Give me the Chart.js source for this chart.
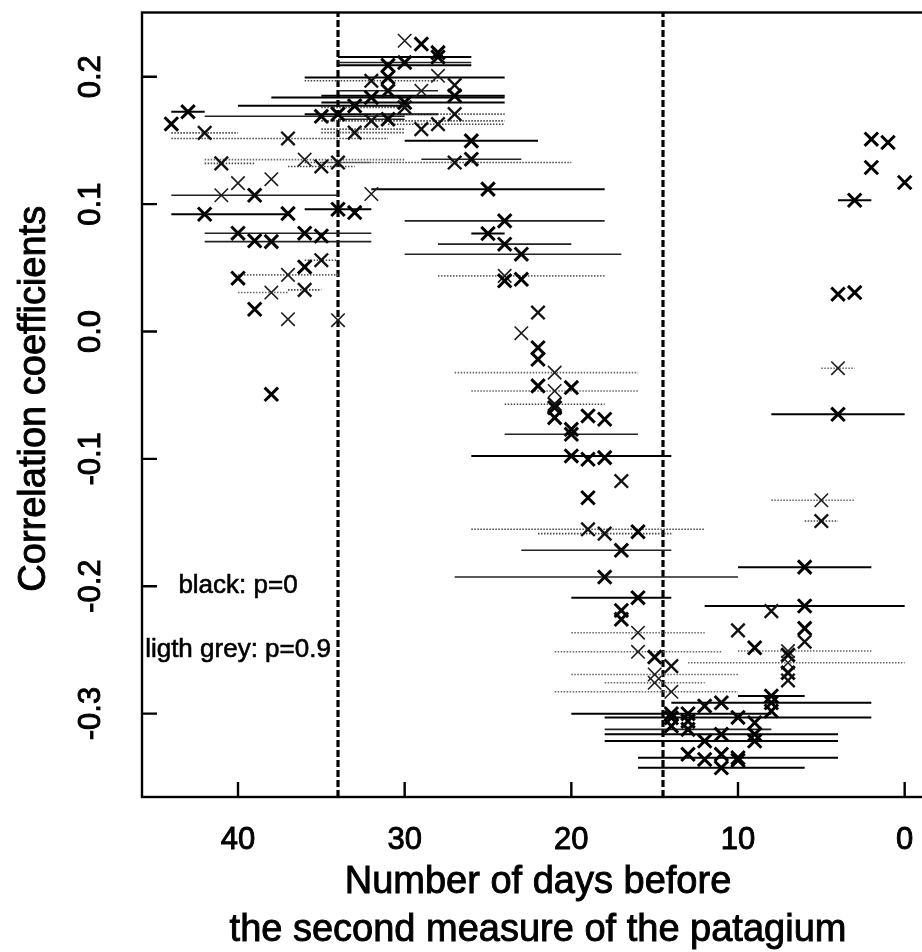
<!DOCTYPE html>
<html>
<head>
<meta charset="utf-8">
<title>Correlation coefficients by window</title>
<script src="https://cdn.jsdelivr.net/npm/chart.js@4.4.1/dist/chart.umd.min.js"></script>
<style>
  html, body { margin: 0; padding: 0; background: #fff; overflow: hidden; }
  #wrap { width: 922px; height: 952px; overflow: hidden; }
  canvas { display: block; }
</style>
</head>
<body>
<div id="wrap"><canvas id="corrChart" width="960" height="952"></canvas></div>
<script>
// ------------------------------------------------------------
// Correlation of patagium growth with a climate window,
// one cross per window centre, horizontal bar = window span
// ------------------------------------------------------------

// window centre (days before the 2nd measure)
const days = [
  44, 43, 42, 37, 41, 36, 40, 38, 41, 39, 35, 34, 42, 37, 34, 33, 32, 40, 38, 39,
  36, 35, 35, 36, 40, 37, 36, 38, 39, 37, 34, 38,
  30, 29, 28, 28, 30, 31, 28, 31, 32, 27, 31, 29, 27, 32, 30, 30, 33, 35,
  34, 32, 31, 27, 28, 29, 33, 26, 26, 27,
  25, 24, 25, 24, 23, 24, 24, 23, 22, 23, 22, 22, 21, 22, 21, 20, 21, 21, 21, 19,
  18, 20, 20, 20, 19, 18, 17, 19, 19, 18, 16, 17, 18, 16, 17, 17, 16, 16, 15, 14,
  15, 15, 14, 14, 14, 14, 13, 13, 13, 12, 11, 12, 13, 12, 10, 9, 9, 9, 11, 11,
  10, 10, 11, 8, 8, 8, 7, 7, 7, 7, 7, 9, 10, 8, 6, 6, 6, 6, 5, 5,
  4, 4, 4, 3, 3, 2, 1, 2, 0
];

// correlation coefficient for each window
const corr = [
  0.163, 0.1725, 0.156, 0.1516, 0.132, 0.135, 0.1165, 0.1196, 0.107, 0.107,
  0.1296, 0.1327, 0.0921, 0.0926, 0.096, 0.0934, 0.108, 0.0772, 0.0706, 0.0712,
  0.0772, 0.075, 0.056, 0.0507, 0.0419, 0.0445, 0.0327, 0.0306, 0.0175, 0.0097,
  0.0089, -0.0493,
  0.2283, 0.2257, 0.219, 0.2155, 0.2112, 0.209, 0.2008, 0.1995, 0.1969, 0.1935,
  0.189, 0.189, 0.1851, 0.1838, 0.1798, 0.176, 0.1772, 0.169, 0.1707, 0.1654,
  0.1667, 0.1707, 0.1628, 0.1589, 0.1562, 0.1497, 0.1353, 0.1327,
  0.1118, 0.0869, 0.0769, 0.0686, 0.0607, 0.0437, 0.0398, 0.041, 0.0149, -0.0013,
  -0.0127, -0.0218, -0.0323, -0.0427, -0.0467, -0.044, -0.0571, -0.0598, -0.0676, -0.0663,
  -0.0689, -0.0768, -0.0807, -0.0977, -0.1003, -0.099, -0.1174, -0.1305, -0.1553, -0.1587,
  -0.1572, -0.1718, -0.1928, -0.209, -0.219, -0.226, -0.2365, -0.2515, -0.2556, -0.2627,
  -0.2693, -0.2758, -0.2829, -0.3001, -0.3033, -0.3098, -0.3001, -0.3059, -0.3124, -0.294,
  -0.2915, -0.3216, -0.332, -0.336, -0.303, -0.3072, -0.3163, -0.3216, -0.3163, -0.332,
  -0.3347, -0.3367, -0.3426, -0.2862, -0.2915, -0.298, -0.2509, -0.254, -0.2601, -0.268,
  -0.274, -0.2483, -0.2347, -0.2195, -0.2155, -0.2331, -0.2436, -0.185, -0.1488, -0.1325,
  -0.065, -0.0288, 0.0293, 0.0306, 0.1031, 0.151, 0.1484, 0.1288, 0.117
];

// window bounds (days); null = span not drawn
const winFrom = [
  null, 44, 44, 44, 42, 42, null, null, null, 44, 37, 36, 44, null, 36, null, null, 42, 42, null,
  null, null, 36, null, null, 40, 37, 40, null, null, null, null,
  null, null, null, 34, 34, 34, null, 36, 36, null, 34, null, 35, 38, 35, 35, 40, 42,
  36, 35, 34, 32, 31, 35, 35, 30, 29, 35,
  32, 30, 26, 28, 30, 28, null, null, null, null, null, null, 27, null, 26, null, 24, null, null, null,
  null, null, 24, 26, null, null, null, null, 26, 22, null, 23, 27, 20, null, null, 20, 21, null, null,
  20, 18, 21, 20, null, null, null, null, 18, null, null, 18, null, null, 18, null, null, null, 18, null,
  16, null, 16, 10, 14, null, 10, null, 13, null, null, null, null, null, 12, null, null, 10, 6, 8,
  8, 5, null, null, 4, null, null, null, null
];
const winTo = [
  null, 42, 40, 31, 39, 30, null, null, null, 34, 33, 32, 37, null, 32, null, null, 32, 32, null,
  null, null, 34, null, null, 34, 35, 37, null, null, null, null,
  null, null, null, 26, 26, 26, null, 24, 28, null, 28, null, 24, 24, 24, 30, 30, 30,
  28, 24, 30, 24, 24, 30, 30, 22, 23, 20,
  18, 18, 24, 20, 17, 18, null, null, null, null, null, null, 16, null, 16, null, 18, null, null, null,
  null, null, 16, 14, null, null, null, null, 12, 14, null, 14, 10, 14, null, null, 12, 11, null, null,
  10, 12, 10, 8, null, null, null, null, 8, null, null, 4, null, null, 2, null, null, null, 4, null,
  4, null, 6, 6, 2, null, 2, null, 0, null, null, null, null, null, 0, null, null, 2, 4, 3,
  0, 3, null, null, 2, null, null, null, null
];

// shrinkage parameter p of each estimate (0 = black ... 0.9 = light grey)
const pLevel = [
  0, 0, 0.6, 0.6, 0.6, 0.9, 0.9, 0.9, 0.9, 0.3, 0.6, 0.6, 0, 0, 0, 0, 0.9, 0.3, 0.3, 0,
  0, 0, 0.6, 0, 0, 0.9, 0.6, 0.9, 0, 0.9, 0.9, 0,
  0.9, 0, 0, 0, 0.3, 0, 0.9, 0, 0.6, 0.6, 0.3, 0.9, 0, 0, 0, 0.6, 0, 0.3,
  0, 0.6, 0.3, 0.6, 0.6, 0.6, 0.6, 0, 0.3, 0.6,
  0, 0.3, 0, 0.3, 0.3, 0.9, 0, 0, 0.6, 0.9, 0.3, 0.3, 0.9, 0, 0.9, 0, 0.6, 0.3, 0, 0,
  0, 0, 0.3, 0, 0, 0, 0.6, 0, 0.6, 0.6, 0, 0.3, 0.3, 0, 0.3, 0.3, 0.9, 0.9, 0.3, 0.6,
  0.9, 0.9, 0.9, 0, 0, 0, 0, 0, 0.3, 0.3, 0.3, 0, 0, 0, 0, 0, 0, 0, 0, 0,
  0, 0, 0, 0, 0, 0, 0.9, 0.3, 0.9, 0.3, 0.6, 0, 0.6, 0.6, 0, 0, 0.6, 0, 0.6, 0.9,
  0, 0.9, 0, 0, 0, 0, 0, 0, 0
];

// axes
const xTicks = [40, 30, 20, 10, 0];
const yTicks = [-0.3, -0.2, -0.1, 0.0, 0.1, 0.2];
const yTickLabels = ["-0.3", "-0.2", "-0.1", "0.0", "0.1", "0.2"];
const xRange = [-1.76, 45.76];
const yRange = [-0.3655, 0.2505];

// period boundaries (dashed verticals)
const cutDays = [34, 14.5];

// in-plot notes
const noteText = ["black: p=0", "ligth grey: p=0.9"];
const noteDay = [40, 40];
const noteCorr = [-0.2, -0.25];

const FONT = '"Liberation Sans", Arial, Helvetica, sans-serif';

function greyOf(p, k) {
  const g = Math.round(255 * p * k);
  return `rgb(${g},${g},${g})`;
}
const markerColor = p => greyOf(p, 0.12);
const markerWidth = p => (p >= 0.9 ? 1.6 : p >= 0.6 ? 2.4 : 3);
const barColor = p => (p === 0 ? "#000" : greyOf(p, 0.45));
const barWidth = p => (p === 0 ? 2 : 1.6);
const barDash = p => (p >= 0.6 ? [1.5, 1.5] : []);

// window spans as broken polyline: from, to, gap
const windowPts = [];
const windowP = [];
days.forEach((d, i) => {
  if (winFrom[i] == null) return;
  windowPts.push({ x: winFrom[i], y: corr[i] }, { x: winTo[i], y: corr[i] }, { x: NaN, y: NaN });
  windowP.push(pLevel[i]);
});

const points = days.map((d, i) => ({ x: d, y: corr[i] }));

const cutSets = cutDays.map(d => ({
  type: "scatter",
  data: [{ x: d, y: yRange[0] }, { x: d, y: yRange[1] }],
  showLine: true,
  borderColor: "#000",
  borderWidth: 3.2,
  borderDash: [7, 3],
  pointRadius: 0,
  order: 3
}));

// heavier text, close to the printed weight
function boldText(ctx, t, x, y) {
  ctx.fillText(t, x, y);
  ctx.strokeText(t, x, y);
}

// frame, inward ticks and all text
const framePlugin = {
  id: "frame",
  afterDraw(chart) {
    const { ctx, chartArea: a, scales } = chart;
    const sx = scales.x, sy = scales.y;
    ctx.save();
    ctx.strokeStyle = "#000";
    ctx.lineWidth = 2.4;
    ctx.strokeRect(a.left, a.top, a.right - a.left, a.bottom - a.top);

    ctx.beginPath();
    xTicks.forEach(v => {
      const px = sx.getPixelForValue(v);
      ctx.moveTo(px, a.bottom);
      ctx.lineTo(px, a.bottom - 15);
    });
    yTicks.forEach(v => {
      const py = sy.getPixelForValue(v);
      ctx.moveTo(a.left, py);
      ctx.lineTo(a.left + 15, py);
    });
    ctx.stroke();

    ctx.fillStyle = "#000";
    ctx.lineWidth = 0.9;
    ctx.font = `31px ${FONT}`;
    ctx.textAlign = "center";
    ctx.textBaseline = "alphabetic";
    xTicks.forEach(v => boldText(ctx, String(v), sx.getPixelForValue(v), 849));

    yTicks.forEach((v, i) => {
      ctx.save();
      ctx.translate(100, sy.getPixelForValue(v));
      ctx.rotate(-Math.PI / 2);
      boldText(ctx, yTickLabels[i], 0, 0);
      ctx.restore();
    });

    ctx.font = `38px ${FONT}`;
    const cx = (a.left + a.right) / 2;
    boldText(ctx, "Number of days before", cx, 893);
    boldText(ctx, "the second measure of the patagium", cx, 941);

    ctx.save();
    ctx.translate(45, (a.top + a.bottom) / 2 - 6);
    ctx.rotate(-Math.PI / 2);
    boldText(ctx, "Correlation coefficients", 0, 0);
    ctx.restore();

    ctx.font = `26px ${FONT}`;
    ctx.lineWidth = 0.6;
    ctx.textBaseline = "middle";
    noteText.forEach((t, i) => {
      boldText(ctx, t, sx.getPixelForValue(noteDay[i]), sy.getPixelForValue(noteCorr[i]));
    });
    ctx.restore();
  }
};

new Chart(document.getElementById("corrChart"), {
  type: "scatter",
  data: {
    datasets: [
      {
        label: "estimates",
        data: points,
        pointStyle: "crossRot",
        pointRadius: 9.5,
        pointBorderColor: c => markerColor(pLevel[c.dataIndex]),
        pointBorderWidth: c => markerWidth(pLevel[c.dataIndex]),
        order: 1
      },
      {
        label: "windows",
        data: windowPts,
        showLine: true,
        spanGaps: false,
        pointRadius: 0,
        borderWidth: 1.8,
        borderColor: "#000",
        segment: {
          borderColor: c => barColor(windowP[Math.floor(c.p0DataIndex / 3)]),
          borderWidth: c => barWidth(windowP[Math.floor(c.p0DataIndex / 3)]),
          borderDash: c => barDash(windowP[Math.floor(c.p0DataIndex / 3)])
        },
        order: 2
      },
      ...cutSets
    ]
  },
  options: {
    responsive: false,
    animation: false,
    events: [],
    layout: { padding: { left: 142, top: 12, right: 26, bottom: 155 } },
    plugins: { legend: { display: false }, tooltip: { enabled: false } },
    scales: {
      x: { type: "linear", reverse: true, min: xRange[0], max: xRange[1], display: false },
      y: { type: "linear", min: yRange[0], max: yRange[1], display: false }
    }
  },
  plugins: [framePlugin]
});
</script>
</body>
</html>
